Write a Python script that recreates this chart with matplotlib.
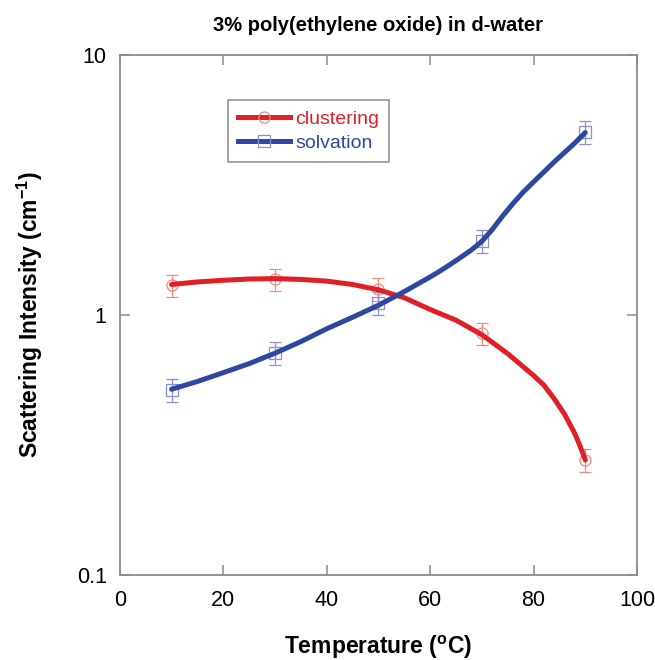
import matplotlib
matplotlib.use('Agg')
import matplotlib.pyplot as plt
from matplotlib.lines import Line2D

plt.rcParams['font.family'] = ['Liberation Sans', 'DejaVu Sans']

# measured points
temps = [10, 30, 50, 70, 90]
clustering = [1.30, 1.37, 1.26, 0.85, 0.277]
solvation = [0.515, 0.714, 1.11, 1.93, 5.06]
rel_err = 0.10

# fitted curves
fit_t_clust = [10, 15, 20, 25, 30, 35, 40, 45, 50, 55, 60, 65, 70, 75, 80,
               82, 84, 86, 88, 89, 90]
fit_clust = [1.31, 1.34, 1.36, 1.375, 1.38, 1.37, 1.35, 1.31, 1.25, 1.165,
             1.05, 0.955, 0.84, 0.71, 0.585, 0.537, 0.476, 0.415, 0.349,
             0.313, 0.277]
fit_t_solv = [10, 15, 20, 25, 30, 35, 40, 45, 50, 55, 60, 62, 64, 66, 68,
              70, 72, 74, 76, 78, 80, 82, 84, 86, 88, 90]
fit_solv = [0.518, 0.555, 0.60, 0.65, 0.713, 0.79, 0.885, 0.98, 1.09, 1.23,
            1.40, 1.48, 1.57, 1.67, 1.78, 1.92, 2.13, 2.40, 2.68, 2.97,
            3.25, 3.55, 3.88, 4.22, 4.59, 5.03]

red, red_lt = '#e01f26', '#f28a7c'
blue, blue_lt = '#2e47a0', '#8a8fd0'
gray = '#8c8c8c'

fig = plt.figure(figsize=(6.55, 6.60), dpi=100)
ax = fig.add_axes([0.183, 0.1288, 0.7895, 0.7879])

ax.errorbar(temps, clustering, yerr=[c * rel_err for c in clustering],
            fmt='o', ms=8, mfc='none', mec=red_lt, mew=0.9, ecolor=red_lt,
            elinewidth=0.9, capsize=4, capthick=0.9, zorder=2)
ax.errorbar(temps, solvation, yerr=[s * rel_err for s in solvation],
            fmt='s', ms=8, mfc='none', mec=blue_lt, mew=0.9, ecolor=blue_lt,
            elinewidth=0.9, capsize=4, capthick=0.9, zorder=2)
ax.plot(fit_t_clust, fit_clust, color=red, lw=3.6, solid_capstyle='round',
        solid_joinstyle='round', zorder=3)
ax.plot(fit_t_solv, fit_solv, color=blue, lw=3.6, solid_capstyle='round',
        solid_joinstyle='round', zorder=3)

ax.set_yscale('log')
ax.set_xlim(0, 100)
ax.set_ylim(0.1, 10)
ax.set_xticks([0, 20, 40, 60, 80, 100])
ax.set_yticks([0.1, 1, 10])
ax.set_yticklabels(['0.1', '1', '10'])
ax.yaxis.set_minor_locator(matplotlib.ticker.NullLocator())
ax.tick_params(axis='both', which='major', direction='in', length=7,
               width=1.1, color=gray, labelsize=15.5,
               top=True, right=True)
ax.tick_params(axis='x', pad=10.5)
ax.tick_params(axis='y', pad=9.5)
for sp in ax.spines.values():
    sp.set_color(gray)
    sp.set_linewidth(1.3)

ax.set_title('3% poly(ethylene oxide) in d-water', fontsize=14.5,
             fontweight='bold', pad=17.5)
ax.set_xlabel(r'Temperature ($\mathregular{^{o}}$C)', fontsize=16.5,
              fontweight='bold', labelpad=16.5)
ax.set_ylabel(r'Scattering Intensity (cm$\mathregular{^{-1}}$)',
              fontsize=16.5, fontweight='bold', labelpad=23)

handles = [
    Line2D([], [], color=red, lw=3.6, marker='o', ms=8, mfc='none',
           mec=red_lt, mew=0.9),
    Line2D([], [], color=blue, lw=3.6, marker='s', ms=8, mfc='none',
           mec=blue_lt, mew=0.9),
]
leg = ax.legend(handles, ['clustering', 'solvation'], loc='upper left',
                bbox_to_anchor=(0.209, 0.913), borderaxespad=0,
                fontsize=14, handlelength=2.7, handletextpad=0.25,
                labelspacing=0.35, borderpad=0.5, fancybox=False,
                framealpha=1, edgecolor=gray)
leg.get_frame().set_linewidth(1.1)
leg.get_texts()[0].set_color(red)
leg.get_texts()[1].set_color(blue)

fig.savefig('out.png', dpi=100)
